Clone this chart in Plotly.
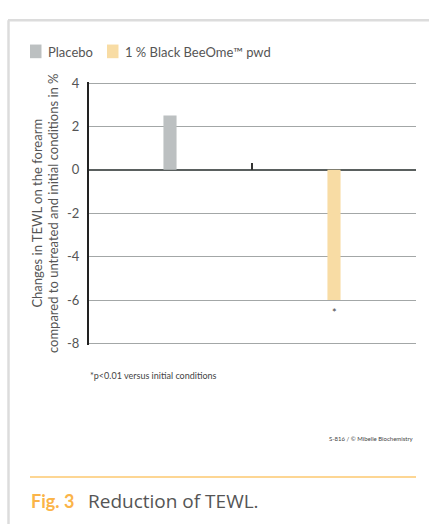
import plotly.graph_objects as go

# ---- data ----
series_names = ["Placebo", "1 % Black BeeOme™ pwd"]
category_pos = [0, 1]
values = [2.5, -6.0]
bar_colors = ["#bcc0c1", "#f8dca4"]
significance = ["", "*"]
y_ticks = [4, 2, 0, -2, -4, -6, -8]

W, H = 429, 524
def px(x): return x / W
def py(y): return 1 - y / H

# plot area in pixels (positions of y = 4 and y = -8)
L, R, T, B = 88, 416, 78, 345
ymin, ymax = -8, 4
pad = 0.06  # small range padding so edge gridlines are drawn
ppu = (B - T) / (ymax - ymin)
ydom = [py(B + pad * ppu), py(T - pad * ppu)]
zero_pos = py(T + (ymax - 0) * ppu)

fig = go.Figure()
for i, name in enumerate(series_names):
    fig.add_trace(go.Bar(
        x=[category_pos[i]], y=[values[i]], name=name,
        marker=dict(color=bar_colors[i], line=dict(width=0)),
        width=0.08, showlegend=False,
    ))

font_main = "Lato, 'Noto Sans', sans-serif"

fig.update_layout(
    width=W, height=H,
    margin=dict(l=0, r=0, t=0, b=0),
    paper_bgcolor="white", plot_bgcolor="white",
    barmode="overlay",
    font=dict(family=font_main, color="#555555", size=13),
    showlegend=False,
    xaxis=dict(domain=[px(L), px(R)], range=[-0.5, 1.5], anchor="free",
               position=zero_pos, showgrid=False, zeroline=False, showline=False,
               tickvals=[0.5, 1.5], ticktext=["", ""], ticks="inside", ticklen=7,
               tickwidth=1.5, tickcolor="#333333", fixedrange=True),
    yaxis=dict(domain=ydom, range=[ymin - pad, ymax + pad], tickvals=y_ticks,
               anchor="free", position=px(L),
               ticktext=[str(v) for v in y_ticks],
               showgrid=True, gridcolor="#a3a7a7", gridwidth=1.2,
               zeroline=True, zerolinecolor="#5a605f", zerolinewidth=2,
               showline=True, linecolor="#222222", linewidth=2,
               ticks="", ticklabelstandoff=5,
               tickfont=dict(size=13, color="#555555"),
               title=dict(text="Changes in TEWL on the forearm<br>compared to untreated and initial conditions in %",
                          font=dict(size=13, color="#555555"), standoff=4),
               fixedrange=True),
)

# legend (drawn as shapes + labels, spacing as in the reference)
leg_x = [30, 107]
for i, name in enumerate(series_names):
    fig.add_shape(type="rect", xref="paper", yref="paper",
                  x0=px(leg_x[i]), x1=px(leg_x[i] + 11.5), y0=py(52.5), y1=py(38.5),
                  fillcolor=bar_colors[i], line=dict(width=0))
    fig.add_annotation(x=px(leg_x[i] + 16), y=py(46), xref="paper", yref="paper",
                       xanchor="left", yanchor="middle", text=name, showarrow=False,
                       font=dict(size=13, color="#555555"))

# significance markers
for i, s in enumerate(significance):
    if s:
        fig.add_annotation(x=category_pos[i], y=values[i], xref="x", yref="y",
                           text=s, showarrow=False, yanchor="top", yshift=-4,
                           font=dict(size=11, color="#444444"))

# frame
fig.add_shape(type="line", xref="paper", yref="paper", x0=px(8), x1=1.05, y0=py(13.5), y1=py(13.5),
              line=dict(color="#dcdcdc", width=2.5))
fig.add_shape(type="line", xref="paper", yref="paper", x0=px(8.5), x1=px(8.5), y0=py(13.5), y1=-0.05,
              line=dict(color="#dcdcdc", width=2.5))

# footnotes
fig.add_annotation(x=px(88), y=py(378), xref="paper", yref="paper", xanchor="left", yanchor="middle",
                   text="*p<0.01 versus initial conditions", showarrow=False,
                   font=dict(size=9, color="#444444"))
fig.add_annotation(x=px(416), y=py(442), xref="paper", yref="paper", xanchor="right", yanchor="middle",
                   text="S-816 / © Mibelle Biochemistry", showarrow=False,
                   font=dict(size=6, color="#444444"))

# caption
fig.add_shape(type="line", xref="paper", yref="paper", x0=px(30), x1=px(416), y0=py(482), y1=py(482),
              line=dict(color="#fdd693", width=2))
fig.add_annotation(x=px(29), y=py(507), xref="paper", yref="paper", xanchor="left", yanchor="middle",
                   text="<b>Fig. 3</b>", showarrow=False,
                   font=dict(size=18, color="#fbb448", family="Lato, sans-serif"))
fig.add_annotation(x=px(86), y=py(507), xref="paper", yref="paper", xanchor="left", yanchor="middle",
                   text="Reduction of TEWL.", showarrow=False,
                   font=dict(size=19, color="#555555", family="'Open Sans', sans-serif"))

fig.write_html("out.html", config=dict(displayModeBar=False),
               post_script="document.body.style.margin='0';document.body.style.overflow='hidden';")
